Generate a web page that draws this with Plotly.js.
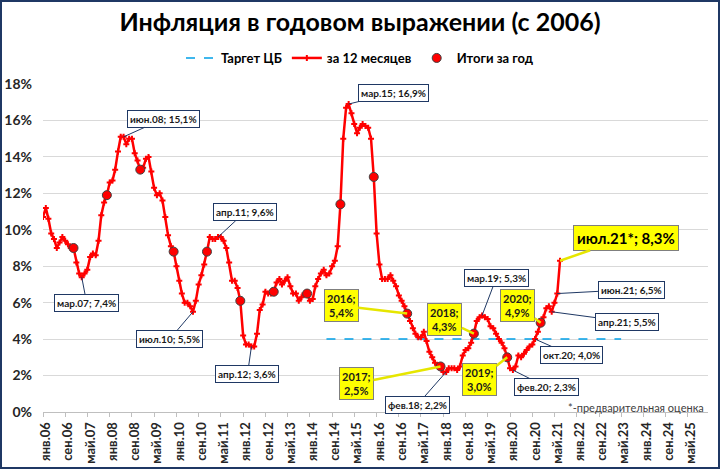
<!DOCTYPE html>
<html>
<head>
<meta charset="utf-8">
<script src="https://cdn.plot.ly/plotly-3.0.1.min.js"></script>
<style>
html,body{margin:0;padding:0;background:#fff;}
#wrap{position:relative;width:720px;height:470px;}
#chart{width:720px;height:470px;}
#frame{position:absolute;left:0;top:0;width:716px;height:465px;border:2px solid #1f3864;pointer-events:none;}
</style>
</head>
<body>
<div id="wrap"><div id="chart"></div><div id="frame"></div></div>
<script>
// ---- DATA ----
const startYear = 2006;
// Year-over-year CPI, % (Jan 2006 .. Jul 2021)
const infl2006 = [10.7, 11.2, 10.6, 9.8, 9.5, 9.0, 9.3, 9.6, 9.4, 9.2, 9.0, 9.0];
const infl2007 = [8.2, 7.6, 7.4, 7.6, 7.8, 8.5, 8.7, 8.6, 9.4, 10.8, 11.5, 11.9];
const infl2008 = [12.6, 12.7, 13.3, 14.3, 15.1, 15.1, 14.7, 15.0, 15.0, 14.2, 13.8, 13.3];
const infl2009 = [13.4, 13.9, 14.0, 13.2, 12.3, 11.9, 12.0, 11.6, 10.7, 9.7, 9.1, 8.8];
const infl2010 = [8.0, 7.2, 6.5, 6.0, 6.0, 5.8, 5.5, 6.1, 7.0, 7.5, 8.1, 8.8];
const infl2011 = [9.6, 9.5, 9.5, 9.6, 9.6, 9.4, 9.0, 8.2, 7.2, 7.2, 6.8, 6.1];
const infl2012 = [4.2, 3.7, 3.7, 3.6, 3.6, 4.3, 5.6, 5.9, 6.6, 6.5, 6.5, 6.6];
const infl2013 = [7.1, 7.3, 7.0, 7.2, 7.4, 6.9, 6.5, 6.5, 6.1, 6.3, 6.5, 6.5];
const infl2014 = [6.1, 6.2, 6.9, 7.3, 7.6, 7.8, 7.5, 7.6, 8.0, 8.3, 9.1, 11.4];
const infl2015 = [15.0, 16.7, 16.9, 16.4, 15.8, 15.3, 15.6, 15.8, 15.7, 15.6, 15.0, 12.9];
const infl2016 = [9.8, 8.1, 7.3, 7.3, 7.3, 7.5, 7.2, 6.9, 6.4, 6.1, 5.8, 5.4];
const infl2017 = [5.0, 4.6, 4.3, 4.1, 4.1, 4.4, 3.9, 3.3, 3.0, 2.7, 2.5, 2.5];
const infl2018 = [2.2, 2.2, 2.4, 2.4, 2.4, 2.3, 2.5, 3.1, 3.4, 3.5, 3.8, 4.3];
const infl2019 = [5.0, 5.2, 5.3, 5.2, 5.1, 4.7, 4.6, 4.3, 4.0, 3.8, 3.5, 3.0];
const infl2020 = [2.4, 2.3, 2.5, 3.1, 3.0, 3.2, 3.4, 3.6, 3.7, 4.0, 4.4, 4.9];
const infl2021 = [5.2, 5.7, 5.8, 5.5, 6.0, 6.5, 8.3];

// Annual totals (December values)
const annualYears = [2006,2007,2008,2009,2010,2011,2012,2013,2014,2015,2016,2017,2018,2019,2020];
const annualValues = [9.0, 11.9, 13.3, 8.8, 8.8, 6.1, 6.6, 6.5, 11.4, 12.9, 5.4, 2.5, 4.3, 3.0, 4.9];

// CB target
const targetValue = 4;
const targetFrom = '2014-07-01';
const targetTo = '2023-05-01';

// Y ticks
const yTickVals = [0, 2, 4, 6, 8, 10, 12, 14, 16, 18];
const yTickText = ['0%', '2%', '4%', '6%', '8%', '10%', '12%', '14%', '16%', '18%'];

// X tick labels (every 8 months from янв.06)
const tickText = ['янв.06','сен.06','май.07','янв.08','сен.08','май.09','янв.10','сен.10','май.11','янв.12',
  'сен.12','май.13','янв.14','сен.14','май.15','янв.16','сен.16','май.17','янв.18','сен.18',
  'май.19','янв.20','сен.20','май.21','янв.22','сен.22','май.23','янв.24','сен.24','май.25'];

// Labelled points: [year, month(1-12), label text]
const calloutsMonthly = [
  [2007, 3, 'мар.07; 7,4%'],
  [2008, 6, 'июн.08; 15,1%'],
  [2010, 7, 'июл.10; 5,5%'],
  [2011, 4, 'апр.11; 9,6%'],
  [2012, 4, 'апр.12; 3,6%'],
  [2015, 3, 'мар.15; 16,9%'],
  [2018, 2, 'фев.18; 2,2%'],
  [2019, 3, 'мар.19; 5,3%'],
  [2020, 2, 'фев.20; 2,3%'],
  [2020, 10, 'окт.20; 4,0%'],
  [2021, 4, 'апр.21; 5,5%'],
  [2021, 6, 'июн.21; 6,5%']
];
const calloutsAnnual = [
  [2016, '2016;<br>5,4%'],
  [2017, '2017;<br>2,5%'],
  [2018, '2018;<br>4,3%'],
  [2019, '2019;<br>3,0%'],
  [2020, '2020;<br>4,9%']
];
const calloutLast = [2021, 7, 'июл.21*; 8,3%'];
const footnote = '*-предварительная оценка';

// ---- BUILD ----
const values = [].concat(infl2006, infl2007, infl2008, infl2009, infl2010, infl2011, infl2012,
  infl2013, infl2014, infl2015, infl2016, infl2017, infl2018, infl2019, infl2020, infl2021);
function ds(y, m) { return y + '-' + String(m).padStart(2, '0') + '-01'; }
const dates = values.map((v, i) => ds(startYear + Math.floor(i / 12), (i % 12) + 1));
const annualDates = annualYears.map(y => ds(y, 12));
const tickVals = tickText.map((t, i) => { const k = i * 8; return ds(startYear + Math.floor(k / 12), (k % 12) + 1); });
function valAt(y, m) { return values[(y - startYear) * 12 + (m - 1)]; }

// offsets (px) of callout boxes relative to points
const offMonthly = {
  'мар.07; 7,4%': [5, 26], 'июн.08; 15,1%': [40, -18], 'июл.10; 5,5%': [-23, 27],
  'апр.11; 9,6%': [27, -25], 'апр.12; 3,6%': [-4, 28], 'мар.15; 16,9%': [45, -11],
  'фев.18; 2,2%': [-29, 33], 'мар.19; 5,3%': [14, -37], 'фев.20; 2,3%': [34, 17],
  'окт.20; 4,0%': [36, 16], 'апр.21; 5,5%': [75, 10], 'июн.21; 6,5%': [74, -4]
};
const offAnnual = {2016: [-66, -8], 2017: [-84, 17], 2018: [-29, -14], 2019: [-28, 22], 2020: [-23, -17]};

const annotations = [];
calloutsMonthly.forEach(c => {
  const o = offMonthly[c[2]];
  annotations.push({
    x: ds(c[0], c[1]), y: valAt(c[0], c[1]), xref: 'x', yref: 'y', text: c[2],
    showarrow: true, arrowhead: 0, arrowwidth: 1, arrowcolor: '#1f3864', ax: o[0], ay: o[1],
    bgcolor: '#ffffff', bordercolor: '#1f3864', borderwidth: 1, borderpad: 2,
    font: {family: 'Lato, sans-serif', size: 10, color: '#1a1a1a', weight: 'bold'}
  });
});
calloutsAnnual.forEach(c => {
  const o = offAnnual[c[0]];
  const idx = annualYears.indexOf(c[0]);
  annotations.push({
    x: annualDates[idx], y: annualValues[idx], xref: 'x', yref: 'y', text: c[1],
    showarrow: true, arrowhead: 0, arrowwidth: 2.5, arrowcolor: '#e6e600', ax: o[0], ay: o[1],
    bgcolor: '#ffff00', bordercolor: '#7f7f7f', borderwidth: 1, borderpad: 2,
    font: {family: 'Lato, sans-serif', size: 11, color: '#1a1a1a', weight: 'bold'}
  });
});
annotations.push({
  x: ds(calloutLast[0], calloutLast[1]), y: valAt(calloutLast[0], calloutLast[1]), xref: 'x', yref: 'y',
  text: calloutLast[2], showarrow: true, arrowhead: 0, arrowwidth: 2.5, arrowcolor: '#e6e600', ax: 66, ay: -23,
  bgcolor: '#ffff00', bordercolor: '#7f7f7f', borderwidth: 1, borderpad: 3,
  font: {family: 'Lato, sans-serif', size: 15, color: '#000000', weight: 'bold'}
});
annotations.push({
  x: 1, y: 0, xref: 'paper', yref: 'paper', xanchor: 'right', yanchor: 'bottom', yshift: -4, xshift: -2,
  text: footnote, showarrow: false,
  font: {family: 'Lato, sans-serif', size: 11, color: '#404040'}
});

const traces = [
  {
    name: 'Таргет ЦБ', type: 'scatter', mode: 'lines',
    x: [targetFrom, targetTo], y: [targetValue, targetValue],
    line: {color: '#00a0e8', width: 1.5, dash: 'dash'}, hoverinfo: 'skip'
  },
  {
    name: 'за 12 месяцев', type: 'scatter', mode: 'lines+markers',
    x: dates, y: values,
    line: {color: '#ff0000', width: 2.5},
    marker: {symbol: 'cross', size: 5, color: '#ff0000'}
  },
  {
    name: 'Итоги за год', type: 'scatter', mode: 'markers',
    x: annualDates, y: annualValues,
    marker: {symbol: 'circle', size: 9, color: '#ff0000', line: {color: '#404040', width: 1}}
  }
];

const layout = {
  width: 720, height: 470,
  margin: {l: 43, r: 12, t: 84, b: 58},
  paper_bgcolor: '#ffffff', plot_bgcolor: '#ffffff',
  title: {
    text: 'Инфляция в годовом выражении (с 2006)',
    x: 0.5, xref: 'container', xanchor: 'center',
    y: 0.953, yref: 'container', yanchor: 'middle',
    font: {family: 'Lato, sans-serif', size: 25, color: '#000000', weight: 'bold'}
  },
  showlegend: true,
  legend: {
    orientation: 'h', xref: 'container', x: 0.5, xanchor: 'center',
    yref: 'container', y: 1 - 58 / 470, yanchor: 'middle',
    font: {family: 'Lato, sans-serif', size: 13, color: '#000000', weight: 'bold'},
    itemwidth: 30, bgcolor: 'rgba(0,0,0,0)', traceorder: 'normal'
  },
  xaxis: {
    type: 'date', range: ['2006-01-01', '2025-12-07'],
    tickmode: 'array', tickvals: tickVals, ticktext: tickText, tickangle: -90,
    ticks: 'outside', ticklen: 4, tickcolor: '#bfbfbf',
    showline: true, linecolor: '#bfbfbf', linewidth: 1,
    showgrid: false, zeroline: false, ticklabelshift: 3,
    tickfont: {family: 'Lato, sans-serif', size: 13, color: '#262626', weight: 'bold'}
  },
  yaxis: {
    range: [0, 18], tickmode: 'array', tickvals: yTickVals, ticktext: yTickText,
    showgrid: true, gridcolor: '#d9d9d9', gridwidth: 1, zeroline: false, showline: false,
    ticks: '', ticklabelstandoff: 10,
    tickfont: {family: 'Lato, sans-serif', size: 14, color: '#262626', weight: 'bold'}
  },
  annotations: annotations
};

Plotly.newPlot('chart', traces, layout, {staticPlot: true});
</script>
</body>
</html>
